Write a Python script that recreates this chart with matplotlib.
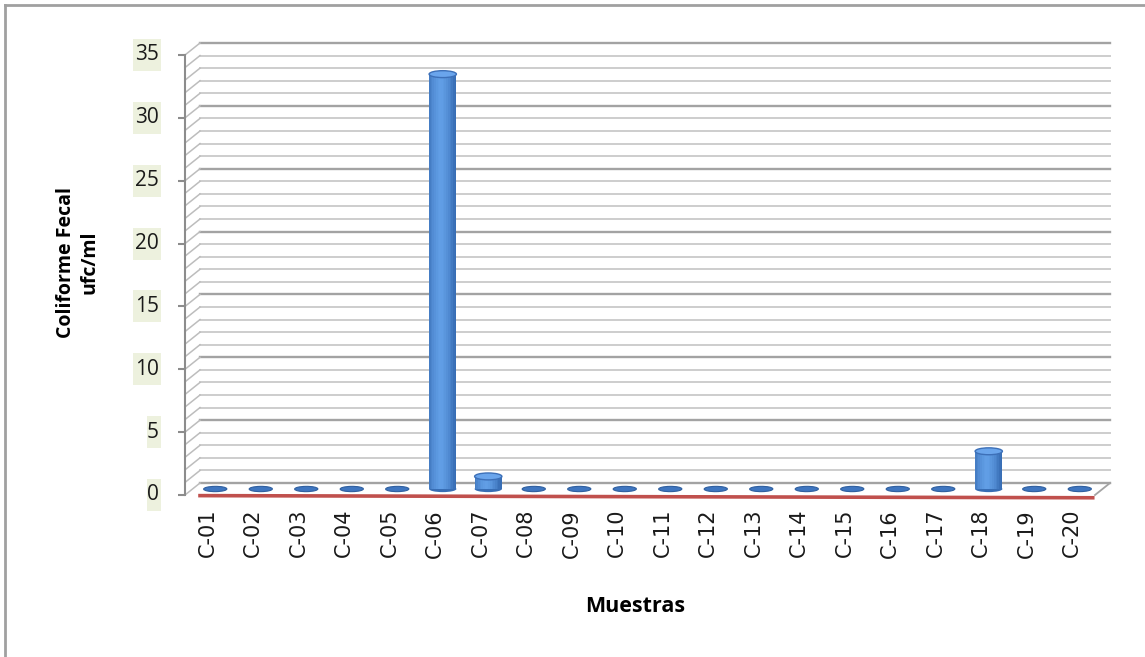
import numpy as np
import matplotlib
matplotlib.use("Agg")
from matplotlib import pyplot as plt
from matplotlib.patches import Ellipse, Rectangle
from matplotlib.lines import Line2D


# coliform counts per sample
muestras = ['C-%02d' % i for i in range(1, 21)]
ufc      = [0, 0, 0, 0, 0, 33, 1, 0, 0, 0, 0, 0, 0, 0, 0, 0, 0, 3, 0, 0]
yticks   = [0, 5, 10, 15, 20, 25, 30, 35]
ylabel   = 'Coliforme Fecal\nufc/ml'
xlabel   = 'Muestras'

W, H     = 1145, 657
fig      = plt.figure(figsize=(W/100, H/100), dpi=100)
ax       = fig.add_axes([185/W, (H-495)/H, 910/W, 440/H])
ax.set_xlim(-0.5, len(muestras)-0.5)
ax.set_ylim(0, 35)
for s in ['top', 'right', 'bottom']:
	ax.spines[s].set_visible(False)
ax.spines['left'].set_color('#8c8c8c')
ax.spines['left'].set_linewidth(1.5)
ax.set_yticks(yticks)
ax.set_yticklabels([])
ax.tick_params(axis='y', direction='out', length=5, width=1.5, color='#8c8c8c')
ax.set_xticks(range(len(muestras)))
ax.set_xticklabels(muestras, rotation=90, fontsize=15, family='DejaVu Sans', color='#1a1a1a')
ax.tick_params(axis='x', length=0, pad=10)
ax.patch.set_alpha(0)

### fake 3D depth (data units):
dx, dy   = 0.33, 0.955
x0, x1   = -0.5, len(muestras)-0.5

### back wall gridlines + left wall diagonals:
for v in range(0, 36):
	major = (v % 5 == 0)
	c     = '#a3a3a3' if major else '#cdcdcd'
	lw    = 1.7 if major else 1.4
	ax.add_line(Line2D([x0+dx, x1+dx], [v+dy, v+dy], color=c, lw=lw, clip_on=False, zorder=1))
	ax.add_line(Line2D([x0, x0+dx], [v, v+dy], color='#bdbdbd', lw=1.1, clip_on=False, zorder=1))
### floor edges:
ax.add_line(Line2D([x1, x1+dx], [0, dy], color='#a3a3a3', lw=1.3, clip_on=False, zorder=1))
ax.add_line(Line2D([-0.17, x1-0.05], [-0.05, -0.22], color='#c0504d', lw=2.6, clip_on=False, zorder=6))

### cylinders:
bw       = 0.6
nstrip   = 16
edge     = np.array([0.22, 0.43, 0.71])
mid      = np.array([0.38, 0.62, 0.90])
for i, v in enumerate(ufc):
	xc   = i + dx/2
	base = dy/2
	if v == 0:
		ax.add_patch(Ellipse((xc, base), bw*0.85, 0.42, angle=4, facecolor='#3f76c0',
			edgecolor='#2f5f9f', lw=0.8, zorder=3, clip_on=False))
		continue
	ax.add_patch(Ellipse((xc, base), bw, 0.5, facecolor=edge, edgecolor='none', zorder=3))
	for k in range(nstrip):
		t   = (k + 0.5)/nstrip*2 - 1
		f   = max(0.0, 1 - abs(t + 0.15)**1.6)
		col = edge + (mid - edge)*f
		ax.bar(xc - bw/2 + (k+0.5)*bw/nstrip, v, width=bw/nstrip*1.05, bottom=base,
			color=col, edgecolor='none', zorder=4)
	ax.add_patch(Ellipse((xc, base+v), bw, 0.55, facecolor='#6aa5ec', edgecolor='#3d70b8',
		lw=1.0, zorder=5))

### y tick labels on shaded boxes:
for v in yticks:
	yp  = (H-495) + v/35*440
	s   = str(v)
	bw_ = 14*len(s)
	fig.patches.append(Rectangle(((161-bw_)/W, (yp-16)/H), bw_/W, 32/H, transform=fig.transFigure,
		facecolor='#edf1de', edgecolor='none', zorder=0))
	fig.text(159/W, yp/H, s, ha='right', va='center', fontsize=15, family='Open Sans', color='#1a1a1a')

fig.text(78/W, 1-262/H, ylabel, rotation=90, ha='center', va='center', fontsize=14,
	family='Open Sans', fontweight='bold', linespacing=1.25)
fig.text(635/W, 1-607/H, xlabel, ha='center', va='center', fontsize=15.5,
	family='Open Sans', fontweight='bold')

### outer frame (top and left edges):
fig.add_artist(Line2D([5/W, 1], [1-5/H, 1-5/H], transform=fig.transFigure, color='#a0a0a0', lw=2))
fig.add_artist(Line2D([5/W, 5/W], [0, 1-5/H], transform=fig.transFigure, color='#a0a0a0', lw=2))

plt.savefig('out.png', dpi=100)
